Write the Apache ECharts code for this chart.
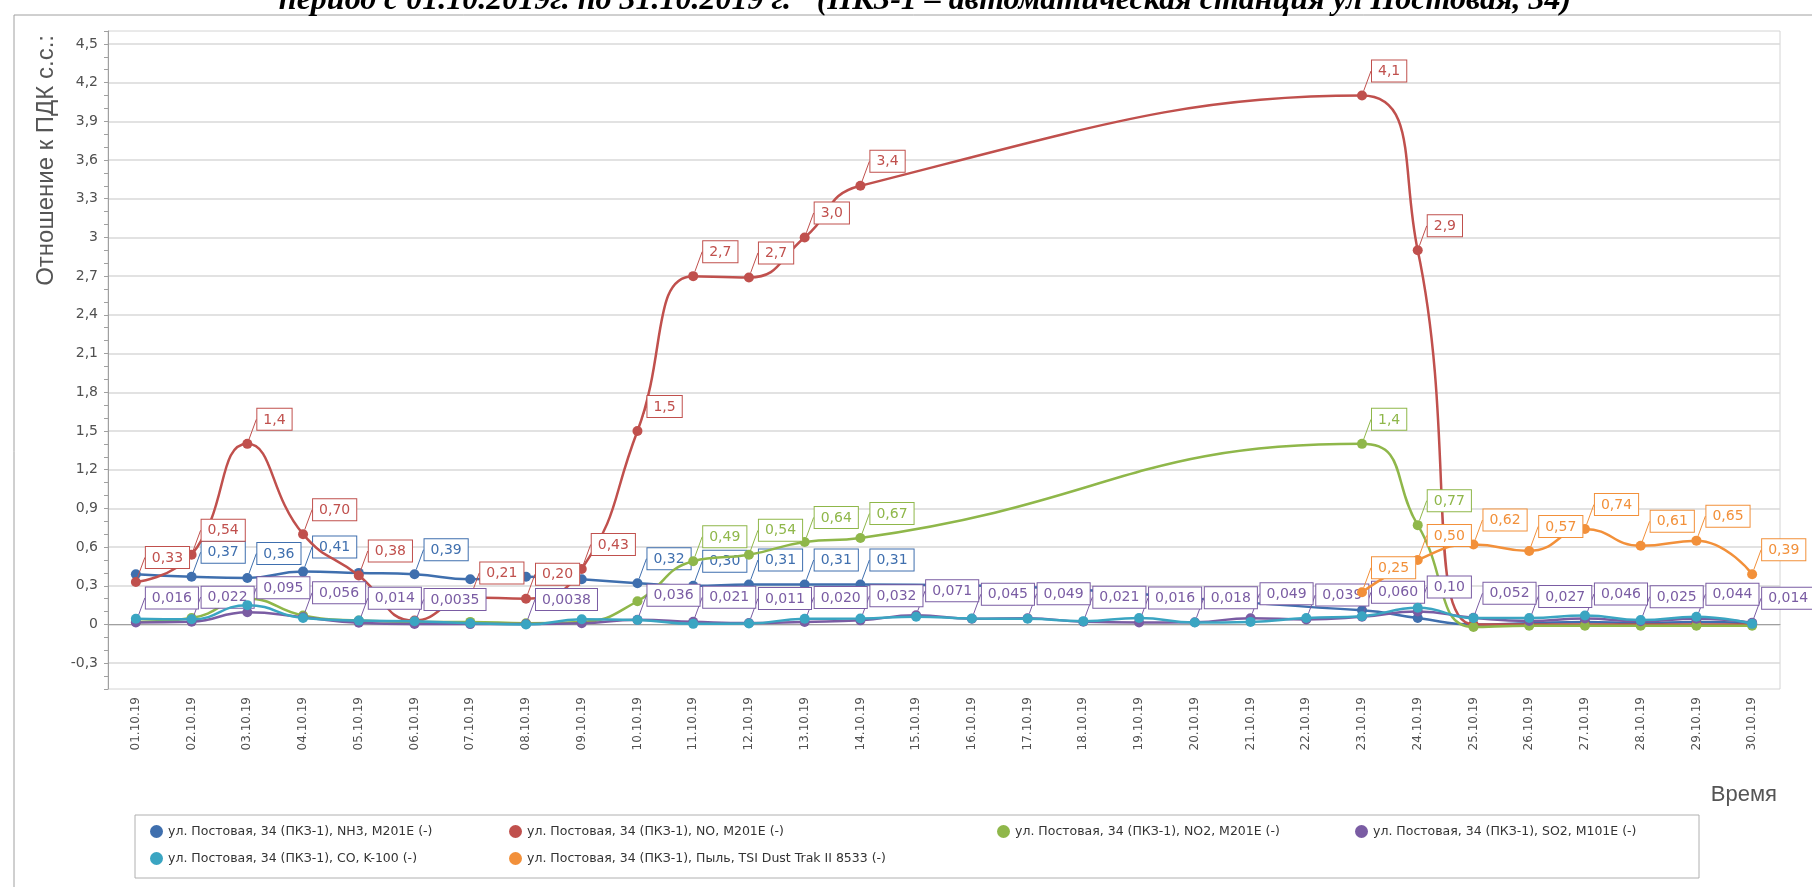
<!DOCTYPE html>
<html><head><meta charset="utf-8">
<script src="https://cdn.jsdelivr.net/npm/echarts@6/dist/echarts.min.js"></script>
<style>html,body{margin:0;padding:0;background:#fff}#c{width:1812px;height:887px}</style>
</head><body><div id="c"></div>
<script>
// ---- data ----
const days = ['01.10.19','02.10.19','03.10.19','04.10.19','05.10.19','06.10.19','07.10.19','08.10.19','09.10.19','10.10.19',
  '11.10.19','12.10.19','13.10.19','14.10.19','15.10.19','16.10.19','17.10.19','18.10.19','19.10.19','20.10.19',
  '21.10.19','22.10.19','23.10.19','24.10.19','25.10.19','26.10.19','27.10.19','28.10.19','29.10.19','30.10.19'];
const nh3 = [0.39,0.37,0.36,0.41,0.40,0.39,0.35,0.37,0.35,0.32,0.30,0.31,0.31,0.31,null,null,null,null,null,null,null,null,0.11,0.05,0.0,0.01,0.02,0.01,0.02,0.01];
const no  = [0.33,0.54,1.4,0.70,0.38,0.03,0.21,0.20,0.43,1.5,2.7,2.69,3.0,3.4,null,null,null,null,null,null,null,null,4.1,2.9,0.0,0.0,0.0,0.0,0.0,0.0];
const no2 = [0.02,0.05,0.20,0.07,0.03,0.02,0.02,0.01,0.02,0.18,0.49,0.54,0.64,0.67,null,null,null,null,null,null,null,null,1.4,0.77,-0.02,-0.01,-0.01,-0.01,-0.01,-0.01];
const so2 = [0.016,0.022,0.095,0.056,0.014,0.0035,0.003,0.0038,0.01,0.036,0.021,0.011,0.020,0.032,0.071,0.045,0.049,0.021,0.016,0.018,0.049,0.039,0.060,0.10,0.052,0.027,0.046,0.025,0.044,0.014];
const co  = [0.044,0.04,0.15,0.05,0.03,0.025,0.01,0.0,0.04,0.035,0.005,0.008,0.044,0.046,0.06,0.046,0.044,0.026,0.05,0.015,0.02,0.05,0.064,0.13,0.05,0.05,0.07,0.034,0.06,0.005];
const dust = [null,null,null,null,null,null,null,null,null,null,null,null,null,null,null,null,null,null,null,null,null,null,0.25,0.50,0.62,0.57,0.74,0.61,0.65,0.39];

// days whose value label is visible in the reference
const shownNh3 = [2,3,4,6,10,11,12,13,14];
const shownNo = [1,2,3,4,5,7,8,9,10,11,12,13,14,23,24];
const shownNo2 = [11,12,13,14,23,24];
const shownSo2 = [1,2,3,4,5,6,8,10,11,12,13,14,15,16,17,18,19,20,21,22,23,24,25,26,27,28,29,30];
const shownCo = [];
const shownDust = [23,24,25,26,27,28,29,30];

const names = [
  'ул. Постовая, 34 (ПКЗ-1), NH3, M201E (-)',
  'ул. Постовая, 34 (ПКЗ-1), NO, M201E (-)',
  'ул. Постовая, 34 (ПКЗ-1), NO2, M201E (-)',
  'ул. Постовая, 34 (ПКЗ-1), SO2, M101E (-)',
  'ул. Постовая, 34 (ПКЗ-1), CO, K-100 (-)',
  'ул. Постовая, 34 (ПКЗ-1), Пыль, TSI Dust Trak II 8533 (-)'
];
const colors = ['#3f6fae','#c0504d','#8fb74a','#7a5ca3','#3aa5c2','#f2903a'];

const subTicks = Array.from({length: days.length * 5}, () => '');

function fmt(v){ return Number(v).toPrecision(2).replace('.', ','); }
function yFmt(v){
  const k = v / 0.3;
  if (Math.abs(k - Math.round(k)) > 1e-6) return '';
  const r = Math.round(v * 10) / 10;
  return String(r).replace('.', ',');
}

function mk(i, values, shown){
  const color = colors[i];
  return {
    name: names[i], type: 'line', smooth: 0.5, connectNulls: true,
    symbol: 'circle', symbolSize: 10, z: 2 + i,
    lineStyle: {color: color, width: 2.5},
    itemStyle: {color: color},
    emphasis: {disabled: true},
    label: {
      show: true, position: 'inside', align: 'left', verticalAlign: 'bottom',
      formatter: p => fmt(p.value),
      color: color, backgroundColor: '#fff', borderColor: color, borderWidth: 1,
      padding: [4,6,3,6], fontSize: 14, fontFamily: 'DejaVu Sans'
    },
    labelLayout: {dx: 10, dy: -14},
    labelLine: {show: true, lineStyle: {color: color, width: 1}},
    data: values.map((v, d) => v === null ? null : {value: v, label: {show: shown.indexOf(d + 1) >= 0}, labelLine: {show: shown.indexOf(d + 1) >= 0}})
  };
}

const legendBase = {orient: 'vertical', top: 825, itemWidth: 13, itemHeight: 13, itemGap: 14, icon: 'circle',
  selectedMode: false, padding: 0, textStyle: {fontFamily: 'DejaVu Sans', fontSize: 12.5, color: '#333'}};

const option = {
  animation: false,
  backgroundColor: '#fff',
  color: colors,
  grid: {left: 108, right: 32, top: 31, bottom: 198, show: true, borderColor: '#d4d4d4', borderWidth: 1},
  xAxis: [{
    type: 'category', data: days, boundaryGap: true,
    axisLine: {lineStyle: {color: '#a0a0a0', width: 1}},
    axisTick: {alignWithLabel: true, length: 6, interval: 0, lineStyle: {color: '#a0a0a0'}},
    axisLabel: {rotate: 90, interval: 0, fontSize: 12, fontFamily: 'DejaVu Sans', color: '#505050', margin: 8},
    splitLine: {show: false}
  }, {
    type: 'category', data: subTicks, boundaryGap: true, position: 'bottom',
    axisLine: {show: false}, axisLabel: {show: false}, splitLine: {show: false},
    axisTick: {alignWithLabel: true, length: 3, interval: 0, lineStyle: {color: '#a0a0a0'}}
  }],
  yAxis: {
    type: 'value', min: -0.5, max: 4.6, interval: 0.1,
    axisLine: {show: true, lineStyle: {color: '#a0a0a0'}},
    axisTick: {show: true, length: 4, lineStyle: {color: '#a0a0a0'}},
    axisLabel: {formatter: yFmt, fontSize: 14, fontFamily: 'DejaVu Sans', color: '#505050', margin: 10},
    splitLine: {show: true, lineStyle: {color: ['transparent','transparent','#d8d8d8'], width: 1.5}}
  },
  legend: [
    Object.assign({left: 150, data: [names[0], names[4]]}, legendBase),
    Object.assign({left: 509, data: [names[1], names[5]]}, legendBase),
    Object.assign({left: 997, data: [names[2]]}, legendBase),
    Object.assign({left: 1355, data: [names[3]]}, legendBase)
  ],
  graphic: [
    {type: 'rect', silent: true, shape: {x: 14, y: 15, width: 1820, height: 900}, style: {fill: 'none', stroke: '#a0a0a0', lineWidth: 1}},
    {type: 'rect', silent: true, shape: {x: 135, y: 815, width: 1564, height: 63}, style: {fill: 'none', stroke: '#b0b0b0', lineWidth: 1}},
    {type: 'text', silent: true, x: 925, y: 17, style: {text: 'период с 01.10.2019г. по 31.10.2019 г." (ПКЗ-1 – автоматическая станция ул Постовая, 34)',
      font: 'italic bold 32px "Liberation Serif"', fill: '#000', textAlign: 'center', textVerticalAlign: 'bottom'}},
    {type: 'text', silent: true, x: 46, y: 35, rotation: Math.PI / 2, style: {text: 'Отношение к ПДК с.с.:',
      font: '24px "Liberation Sans"', fill: '#555', textAlign: 'right', textVerticalAlign: 'middle'}},
    {type: 'text', silent: true, x: 1777, y: 795, style: {text: 'Время', font: '22px "Liberation Sans"', fill: '#555', textAlign: 'right', textVerticalAlign: 'middle'}}
  ],
  series: [
    mk(0, nh3, shownNh3),
    mk(1, no, shownNo),
    mk(2, no2, shownNo2),
    mk(3, so2, shownSo2),
    mk(4, co, shownCo),
    mk(5, dust, shownDust)
  ]
};
const chart = echarts.init(document.getElementById('c'), null, {renderer: 'canvas'});
chart.setOption(option);
</script>
</body></html>
